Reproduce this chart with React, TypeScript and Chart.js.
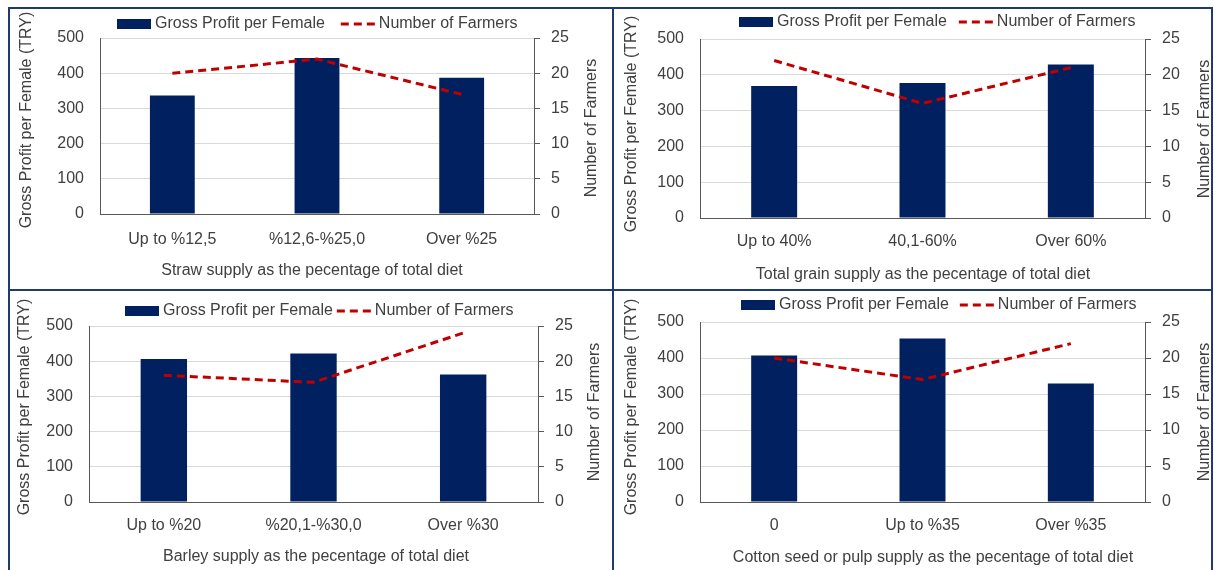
import React, { useEffect, useRef } from "react";
import { Chart, registerables } from "chart.js";

Chart.register(...registerables);

const FONT = '"Liberation Sans", Arial, sans-serif';
const TEXT = "#404040";
const BAR_COLOR = "#002060";
const LINE_COLOR = "#C00000";
const GRID = "#D9D9D9";
const AXIS = "#595959";
const FRAME = "#1F3A70";

const BAR_LABEL = "Gross Profit per Female";
const LINE_LABEL = "Number of Farmers";
const LEFT_TITLE = "Gross Profit per Female (TRY)";
const RIGHT_TITLE = "Number of Farmers";

const profitTicks = [0, 100, 200, 300, 400, 500];
const farmerTicks = [0, 5, 10, 15, 20, 25];

const strawCategories = ["Up to %12,5", "%12,6-%25,0", "Over %25"];
const strawProfit = [337, 443, 387];
const strawFarmers = [20, 22, 17];
const strawTitle = "Straw supply as the pecentage of total diet";

const grainCategories = ["Up to 40%", "40,1-60%", "Over 60%"];
const grainProfit = [369, 377, 429];
const grainFarmers = [22, 16, 21];
const grainTitle = "Total grain supply as the pecentage of total diet";

const barleyCategories = ["Up to %20", "%20,1-%30,0", "Over %30"];
const barleyProfit = [406, 422, 362];
const barleyFarmers = [18, 17, 24];
const barleyTitle = "Barley supply as the pecentage of total diet";

const cottonCategories = ["0", "Up to %35", "Over %35"];
const cottonProfit = [407, 454, 329];
const cottonFarmers = [20, 17, 22];
const cottonTitle = "Cotton seed or pulp supply as the pecentage of total diet";

type PanelCfg = {
  categories: string[];
  profit: number[];
  farmers: number[];
  xTitle: string;
  canvas: { x: number; y: number; w: number; h: number };
  plot: { left: number; right: number; top: number; bottom: number };
  legend: { x: number; y: number; gap: number };
  catPad: number;
  xTitlePos: [number, number];
  leftTitlePos: [number, number];
  rightTitlePos: [number, number];
};

const panels: PanelCfg[] = [
  {
    categories: strawCategories,
    profit: strawProfit,
    farmers: strawFarmers,
    xTitle: strawTitle,
    canvas: { x: 10, y: 9, w: 602, h: 280 },
    plot: { left: 100, right: 534, top: 38, bottom: 214 },
    legend: { x: 117, y: 24, gap: 16 },
    catPad: 16,
    xTitlePos: [312, 271],
    leftTitlePos: [27, 120],
    rightTitlePos: [592, 128],
  },
  {
    categories: grainCategories,
    profit: grainProfit,
    farmers: grainFarmers,
    xTitle: grainTitle,
    canvas: { x: 614, y: 9, w: 597, h: 280 },
    plot: { left: 700, right: 1145, top: 39, bottom: 218 },
    legend: { x: 739, y: 22, gap: 12 },
    catPad: 14,
    xTitlePos: [923, 275],
    leftTitlePos: [632, 124],
    rightTitlePos: [1205, 129],
  },
  {
    categories: barleyCategories,
    profit: barleyProfit,
    farmers: barleyFarmers,
    xTitle: barleyTitle,
    canvas: { x: 10, y: 291, w: 602, h: 279 },
    plot: { left: 89, right: 538, top: 326, bottom: 502 },
    legend: { x: 125, y: 311, gap: 4 },
    catPad: 14,
    xTitlePos: [316, 557],
    leftTitlePos: [25, 407],
    rightTitlePos: [595, 412],
  },
  {
    categories: cottonCategories,
    profit: cottonProfit,
    farmers: cottonFarmers,
    xTitle: cottonTitle,
    canvas: { x: 614, y: 291, w: 597, h: 279 },
    plot: { left: 700, right: 1145, top: 322, bottom: 502 },
    legend: { x: 741, y: 305, gap: 11 },
    catPad: 14,
    xTitlePos: [933, 558],
    leftTitlePos: [632, 407],
    rightTitlePos: [1205, 412],
  },
];

const overlayPlugin = {
  id: "panelOverlay",
  afterDraw(chart: any, _args: any, opts: any) {
    const ctx = chart.ctx as CanvasRenderingContext2D;
    const ox = opts.ox;
    const oy = opts.oy;
    ctx.save();
    ctx.font = `16px ${FONT}`;
    ctx.textBaseline = "middle";
    // legend
    const lg = opts.legend;
    let x = lg.x - ox;
    const y = lg.y - oy;
    ctx.fillStyle = BAR_COLOR;
    ctx.fillRect(x, y - 5, 34, 10);
    x += 38;
    ctx.fillStyle = TEXT;
    ctx.textAlign = "left";
    ctx.fillText(BAR_LABEL, x, y);
    x += ctx.measureText(BAR_LABEL).width + lg.gap;
    ctx.strokeStyle = LINE_COLOR;
    ctx.lineWidth = 3;
    ctx.setLineDash([8, 5]);
    ctx.beginPath();
    ctx.moveTo(x, y);
    ctx.lineTo(x + 34, y);
    ctx.stroke();
    ctx.setLineDash([]);
    x += 38;
    ctx.fillText(LINE_LABEL, x, y);
    // x title
    ctx.textAlign = "center";
    ctx.fillText(opts.xTitle, opts.xTitlePos[0] - ox, opts.xTitlePos[1] - oy);
    // left title
    ctx.save();
    ctx.translate(opts.leftTitlePos[0] - ox, opts.leftTitlePos[1] - oy);
    ctx.rotate(-Math.PI / 2);
    ctx.fillText(LEFT_TITLE, 0, 0);
    ctx.restore();
    // right title
    ctx.save();
    ctx.translate(opts.rightTitlePos[0] - ox, opts.rightTitlePos[1] - oy);
    ctx.rotate(-Math.PI / 2);
    ctx.fillText(RIGHT_TITLE, 0, 0);
    ctx.restore();
    ctx.restore();
  },
};

function Panel({ cfg }: { cfg: PanelCfg }) {
  const ref = useRef<HTMLCanvasElement | null>(null);
  useEffect(() => {
    if (!ref.current) return;
    const c = cfg.canvas;
    const p = cfg.plot;
    const leftW = p.left - c.x;
    const rightW = c.x + c.w - p.right;
    const bottomH = c.y + c.h - p.bottom;
    const chart = new Chart(ref.current, {
      type: "bar",
      data: {
        labels: cfg.categories,
        datasets: [
          {
            type: "line",
            label: LINE_LABEL,
            data: cfg.farmers,
            yAxisID: "y1",
            borderColor: LINE_COLOR,
            backgroundColor: LINE_COLOR,
            borderWidth: 3,
            borderDash: [8, 5],
            borderCapStyle: "butt",
            pointRadius: 0,
            pointHoverRadius: 0,
            fill: false,
            tension: 0,
            order: 0,
          } as any,
          {
            type: "bar",
            label: BAR_LABEL,
            data: cfg.profit,
            yAxisID: "y",
            backgroundColor: BAR_COLOR,
            borderWidth: 0,
            barPercentage: 0.31,
            categoryPercentage: 1,
            order: 1,
          } as any,
        ],
      },
      options: {
        animation: false,
        responsive: false,
        maintainAspectRatio: false,
        devicePixelRatio: 1,
        layout: {
          padding: {
            left: 0,
            right: 0,
            top: p.top - c.y,
            bottom: 0,
          },
        },
        plugins: {
          legend: { display: false },
          tooltip: { enabled: false },
          title: { display: false },
          panelOverlay: {
            ox: c.x,
            oy: c.y,
            legend: cfg.legend,
            xTitle: cfg.xTitle,
            xTitlePos: cfg.xTitlePos,
            leftTitlePos: cfg.leftTitlePos,
            rightTitlePos: cfg.rightTitlePos,
          },
        } as any,
        scales: {
          x: {
            type: "category",
            offset: true,
            afterFit: (s: any) => {
              s.height = bottomH;
            },
            grid: { display: false, drawTicks: false },
            border: { display: true, color: AXIS, width: 1 },
            ticks: {
              color: TEXT,
              font: { family: FONT, size: 16 },
              padding: cfg.catPad,
              maxRotation: 0,
              autoSkip: false,
            },
          },
          y: {
            type: "linear",
            position: "left",
            min: profitTicks[0],
            max: profitTicks[profitTicks.length - 1],
            afterBuildTicks: (s: any) => {
              s.ticks = profitTicks.map((v) => ({ value: v }));
            },
            afterFit: (s: any) => {
              s.width = leftW;
            },
            grid: { color: GRID, lineWidth: 1, drawTicks: false },
            border: { display: true, color: AXIS, width: 1 },
            ticks: {
              color: TEXT,
              font: { family: FONT, size: 16 },
              padding: 16,
            },
          },
          y1: {
            type: "linear",
            position: "right",
            min: farmerTicks[0],
            max: farmerTicks[farmerTicks.length - 1],
            afterBuildTicks: (s: any) => {
              s.ticks = farmerTicks.map((v) => ({ value: v }));
            },
            afterFit: (s: any) => {
              s.width = rightW;
            },
            grid: {
              drawOnChartArea: false,
              drawTicks: true,
              tickLength: 6,
              color: AXIS,
              lineWidth: 1,
            },
            border: { display: true, color: AXIS, width: 1 },
            ticks: {
              color: TEXT,
              font: { family: FONT, size: 16 },
              padding: 11,
            },
          },
        },
      },
      plugins: [overlayPlugin as any],
    });
    return () => chart.destroy();
  }, [cfg]);

  const c = cfg.canvas;
  return (
    <canvas
      ref={ref}
      width={c.w}
      height={c.h}
      style={{
        position: "absolute",
        left: c.x,
        top: c.y,
        width: c.w,
        height: c.h,
      }}
    />
  );
}

function Line({ x, y, w, h }: { x: number; y: number; w: number; h: number }) {
  return (
    <div
      style={{
        position: "absolute",
        left: x,
        top: y,
        width: w,
        height: h,
        background: FRAME,
      }}
    />
  );
}

export default function App() {
  return (
    <div style={{ position: "absolute", left: 0, top: 0, width: 1214, height: 570, overflow: "hidden", background: "#fff" }}>
      {panels.map((p, i) => (
        <Panel key={i} cfg={p} />
      ))}
      <Line x={8} y={7} w={1205} h={2} />
      <Line x={8} y={7} w={2} h={563} />
      <Line x={612} y={7} w={2} h={563} />
      <Line x={1211} y={7} w={2} h={563} />
      <Line x={8} y={289} w={1205} h={2} />
    </div>
  );
}
